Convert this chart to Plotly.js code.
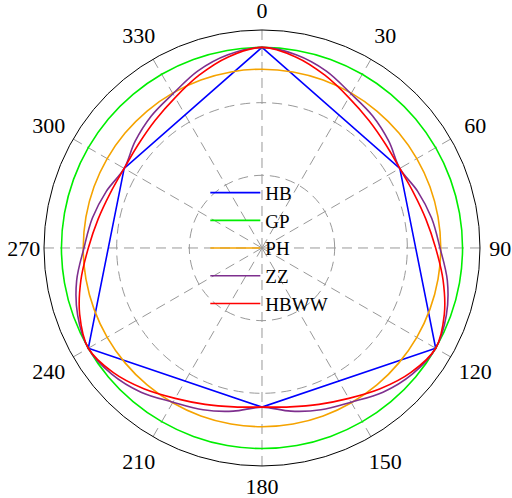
<!DOCTYPE html>
<html>
<head>
<meta charset="utf-8">
<script src="https://cdn.plot.ly/plotly-3.0.1.min.js"></script>
<style>
  html, body { margin: 0; padding: 0; background: #fff; }
  #chart { width: 512px; height: 498px; }
</style>
</head>
<body>
<div id="chart"></div>
<script>
// angles (deg, clockwise from top)
var thetaHB = [0, 60, 120, 180, 240, 300, 360];
var rHB = [2.76, 2.19, 2.76, 2.19, 2.76, 2.19, 2.76];

var thetaCurve = [0, 10, 20, 30, 40, 50, 60, 70, 80, 90, 100, 110,
                  120, 130, 140, 150, 160, 170, 180, 190, 200, 210, 220, 230,
                  240, 250, 260, 270, 280, 290, 300, 310, 320, 330, 340, 350, 360];

var rGP = [2.76, 2.76, 2.76, 2.76, 2.76, 2.76, 2.76, 2.76, 2.76, 2.76, 2.76, 2.76,
           2.76, 2.76, 2.76, 2.76, 2.76, 2.76, 2.76, 2.76, 2.76, 2.76, 2.76, 2.76,
           2.76, 2.76, 2.76, 2.76, 2.76, 2.76, 2.76, 2.76, 2.76, 2.76, 2.76, 2.76, 2.76];

var rPH = [2.46, 2.46, 2.46, 2.46, 2.46, 2.46, 2.46, 2.46, 2.46, 2.46, 2.46, 2.46,
           2.46, 2.46, 2.46, 2.46, 2.46, 2.46, 2.46, 2.46, 2.46, 2.46, 2.46, 2.46,
           2.46, 2.46, 2.46, 2.46, 2.46, 2.46, 2.46, 2.46, 2.46, 2.46, 2.46, 2.46, 2.46];

var rZZ = [2.76, 2.70, 2.59, 2.45, 2.37, 2.28, 2.19, 2.28, 2.37, 2.45, 2.59, 2.70,
           2.76, 2.70, 2.59, 2.45, 2.37, 2.28, 2.19, 2.28, 2.37, 2.45, 2.59, 2.70,
           2.76, 2.70, 2.59, 2.45, 2.37, 2.28, 2.19, 2.28, 2.37, 2.45, 2.59, 2.70, 2.76];

var rHBWW = [2.76, 2.67, 2.53, 2.39, 2.29, 2.22, 2.19, 2.22, 2.29, 2.39, 2.53, 2.67,
             2.76, 2.67, 2.53, 2.39, 2.29, 2.22, 2.19, 2.22, 2.29, 2.39, 2.53, 2.67,
             2.76, 2.67, 2.53, 2.39, 2.29, 2.22, 2.19, 2.22, 2.29, 2.39, 2.53, 2.67, 2.76];

// angular tick labels (MATLAB-style, centred on a ring outside the plot)
var tickMain = [0, 90, 180, 270];
var tickMainText = ['0', '90', '180', '270'];
var tickDiag = [30, 60, 120, 150, 210, 240, 300, 330];
var tickDiagText = ['30', '60', '120', '150', '210', '240', '300', '330'];

var serif = 'Liberation Serif, Times New Roman, serif';
var labelRMain = 3.28;
var labelRDiag = 3.39;

function ringLabels(thetas, texts, rr) {
  return {
    type: 'scatterpolar', subplot: 'polar2', mode: 'text', showlegend: false,
    hoverinfo: 'skip', theta: thetas, r: thetas.map(function () { return rr; }),
    text: texts, textposition: 'middle center', cliponaxis: false,
    textfont: {family: serif, size: 22, color: '#000'}
  };
}

var data = [
  {type: 'scatterpolar', mode: 'lines', name: 'HB', r: rHB, theta: thetaHB,
   line: {color: '#0000ff', width: 1.6}},
  {type: 'scatterpolar', mode: 'lines', name: 'GP', r: rGP, theta: thetaCurve,
   line: {color: '#00ee00', width: 1.6, shape: 'spline'}},
  {type: 'scatterpolar', mode: 'lines', name: 'PH', r: rPH, theta: thetaCurve,
   line: {color: '#f5a300', width: 1.6, shape: 'spline'}},
  {type: 'scatterpolar', mode: 'lines', name: 'ZZ', r: rZZ, theta: thetaCurve,
   line: {color: '#7e2f8e', width: 1.6, shape: 'spline'}},
  {type: 'scatterpolar', mode: 'lines', name: 'HBWW', r: rHBWW, theta: thetaCurve,
   line: {color: '#ff0000', width: 1.6, shape: 'spline'}},
  ringLabels(tickMain, tickMainText, labelRMain),
  ringLabels(tickDiag, tickDiagText, labelRDiag)
];

var layout = {
  width: 512,
  height: 498,
  margin: {l: 0, r: 0, t: 0, b: 0},
  paper_bgcolor: '#ffffff',
  font: {family: serif, size: 19, color: '#000'},
  showlegend: true,
  legend: {
    x: 0.401, y: 0.651, xanchor: 'left', yanchor: 'top',
    bgcolor: 'rgba(0,0,0,0)',
    itemwidth: 50,
    font: {family: serif, size: 19, color: '#000'}
  },
  polar: {
    domain: {x: [0.0859, 0.9375], y: [0.0643, 0.9398]},
    bgcolor: 'rgba(0,0,0,0)',
    radialaxis: {
      range: [0, 3],
      tickvals: [1, 2, 3],
      showticklabels: false,
      ticks: '',
      showline: false,
      gridcolor: '#999999',
      griddash: '10px,6px',
      gridwidth: 1
    },
    angularaxis: {
      rotation: 90,
      direction: 'clockwise',
      tickvals: tickMain.concat(tickDiag),
      showticklabels: false,
      ticks: '',
      showline: true,
      linecolor: '#000',
      linewidth: 1,
      gridcolor: '#999999',
      griddash: '10px,6px',
      gridwidth: 1
    }
  },
  // label ring: same px-per-unit as the main polar, centre a few px lower
  polar2: {
    domain: {x: [0.02832, 0.99512], y: [0, 0.99398]},
    bgcolor: 'rgba(0,0,0,0)',
    radialaxis: {range: [0, 3.406], visible: false},
    angularaxis: {rotation: 90, direction: 'clockwise', visible: false}
  }
};

Plotly.newPlot('chart', data, layout, {displayModeBar: false});
</script>
</body>
</html>
